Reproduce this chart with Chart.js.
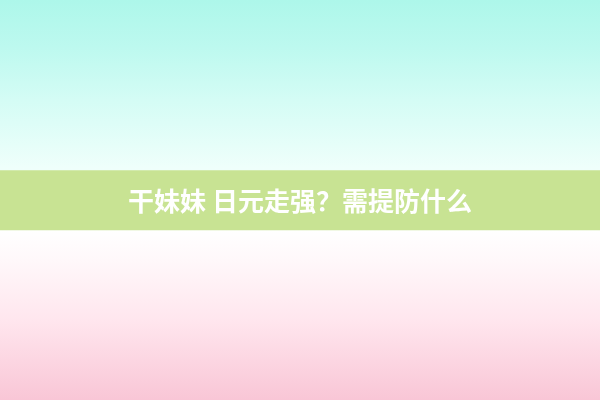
<!DOCTYPE html>
<html>
<head>
<meta charset="utf-8">
<script src="https://cdn.jsdelivr.net/npm/chart.js@4/dist/chart.umd.min.js"></script>
<style>
html,body{margin:0;padding:0;background:#ffffff;}
#wrap{width:600px;height:400px;position:relative;}
</style>
</head>
<body>
<div id="wrap"><canvas id="c" width="600" height="400"></canvas></div>
<script>
// Data
const categories = ['banner'];
const topBand = [[0, 170]];
const titleBand = [[170, 230]];
const bottomBand = [[230, 400]];
const titleText = '干妹妹 日元走强？需提防什么';

function vGrad(ctx, stops) {
  const chart = ctx.chart;
  const area = chart.chartArea;
  if (!area) return stops[0][1];
  const g = chart.ctx.createLinearGradient(0, area.top, 0, area.bottom);
  stops.forEach(s => g.addColorStop(s[0], s[1]));
  return g;
}

const titlePlugin = {
  id: 'bandTitle',
  afterDatasetsDraw(chart) {
    const ctx = chart.ctx;
    const yMid = (chart.scales.y.getPixelForValue(titleBand[0][0]) + chart.scales.y.getPixelForValue(titleBand[0][1])) / 2;
    ctx.save();
    ctx.font = 'bold 26px "Noto Sans CJK SC", sans-serif';
    ctx.fillStyle = '#ffffff';
    ctx.textAlign = 'center';
    ctx.textBaseline = 'middle';
    ctx.fillText(titleText, chart.width / 2, yMid + 1);
    ctx.restore();
  }
};

new Chart(document.getElementById('c'), {
  type: 'bar',
  data: {
    labels: categories,
    datasets: [
      {
        data: topBand,
        grouped: false,
        barPercentage: 1,
        categoryPercentage: 1,
        borderWidth: 0,
        backgroundColor: ctx => vGrad(ctx, [[0, '#adf7ea'], [0.12, '#bdf9ef'], [0.25, '#d4fcf5'], [0.42, '#effffb'], [1, '#ffffff']])
      },
      {
        data: titleBand,
        grouped: false,
        barPercentage: 1,
        categoryPercentage: 1,
        borderWidth: 0,
        backgroundColor: '#c8e393'
      },
      {
        data: bottomBand,
        grouped: false,
        barPercentage: 1,
        categoryPercentage: 1,
        borderWidth: 0,
        backgroundColor: ctx => vGrad(ctx, [[0, '#ffffff'], [0.575, '#ffffff'], [0.65, '#fff8fa'], [0.8, '#ffe6ee'], [1, '#f9c6d6']])
      }
    ]
  },
  options: {
    responsive: false,
    animation: false,
    layout: { padding: 0 },
    plugins: { legend: { display: false }, tooltip: { enabled: false }, title: { display: false } },
    scales: {
      x: { display: false, grid: { display: false } },
      y: { display: false, min: 0, max: 400, reverse: true, grid: { display: false } }
    }
  },
  plugins: [titlePlugin]
});
</script>
</body>
</html>
